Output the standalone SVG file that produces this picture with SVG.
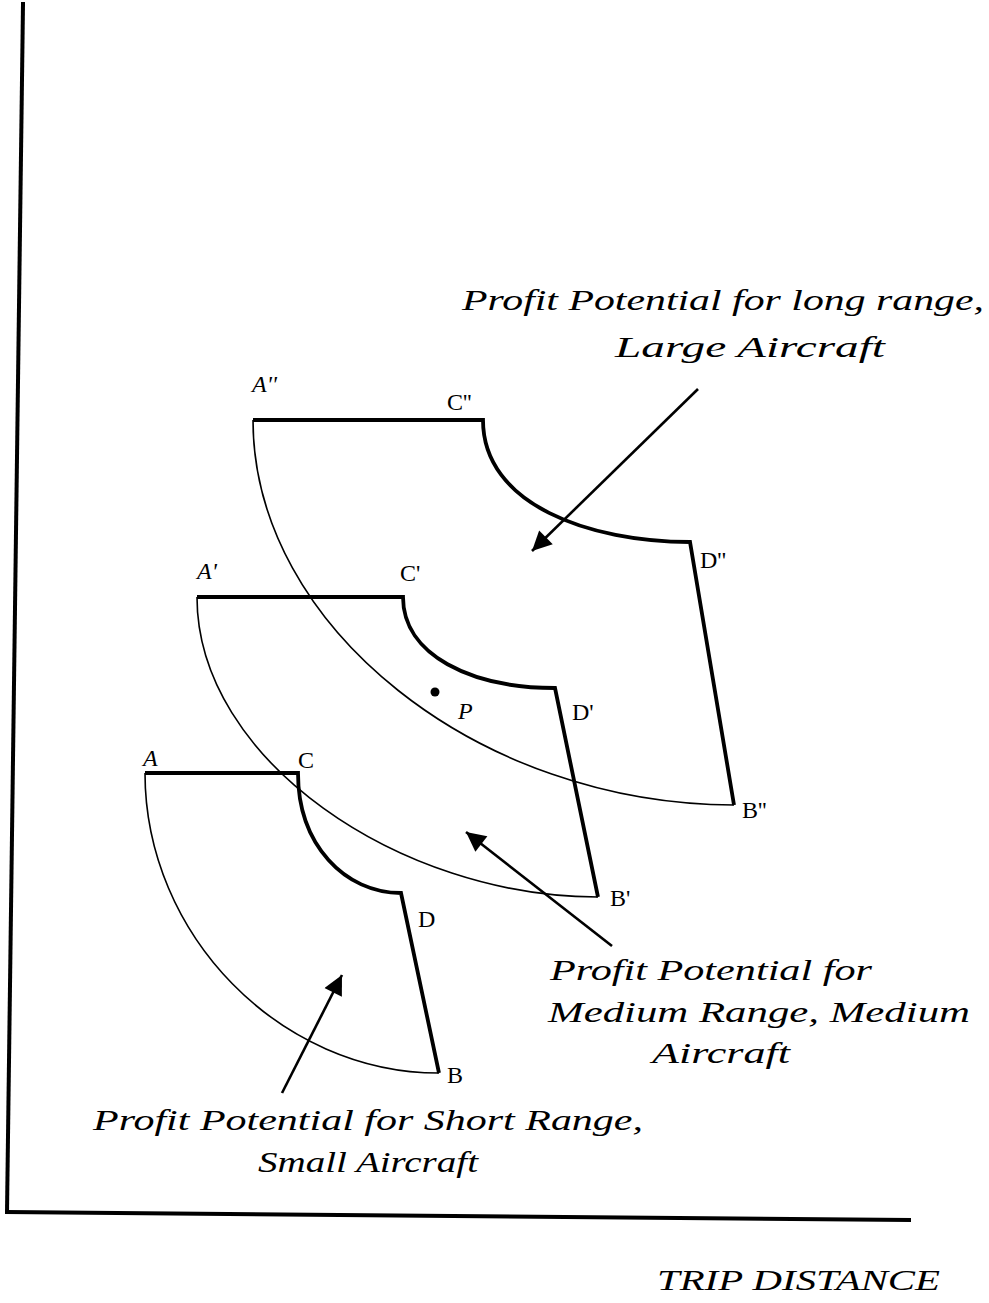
<svg xmlns="http://www.w3.org/2000/svg" width="989" height="1303" viewBox="0 0 989 1303">
<style>
.bg{fill:#fff}
.axis{stroke:#000;stroke-width:4;fill:none;stroke-linecap:square}
.thick{stroke:#000;stroke-width:3.8;fill:none;stroke-linejoin:miter}
.thin{stroke:#000;stroke-width:1.6;fill:none}
.arr{stroke:#000;stroke-width:2.6;fill:none}
.lbl{font-family:"Liberation Serif","DejaVu Serif",serif;font-size:24px;fill:#000}
.scr{font-style:italic}
.big{font-family:"Liberation Serif","DejaVu Serif",serif;font-style:italic;font-size:30px;fill:#000}
</style>
<defs>
<marker id="ah" viewBox="0 0 10 10" refX="10" refY="5" markerWidth="9.5" markerHeight="7.5" markerUnits="strokeWidth" orient="auto">
<path d="M0,0 L10,5 L0,10 Z" fill="#000"/>
</marker>
</defs>
<rect class="bg" x="0" y="0" width="989" height="1303"/>
<g id="axes">
<line class="axis" x1="23" y1="4" x2="7" y2="1212"/>
<line class="axis" x1="7" y1="1212" x2="909" y2="1220"/>
</g>
<g id="sector-short">
<path class="thin" d="M145,773 C145,935 280,1073 439,1073"/>
<path class="thick" d="M145,773 L298,773 C298,845 345,893 401,893 L439,1073"/>
</g>
<g id="sector-medium">
<path class="thin" d="M197,597 C197,760 400,897 598,897"/>
<path class="thick" d="M197,597 L403,597 C403,655 471,688 555,688 L598,897"/>
</g>
<g id="sector-long">
<path class="thin" d="M253,420 C253,628 480,805 734,805"/>
<path class="thick" d="M253,420 L483,420 C483,505 590,542 690,542 L734,805"/>
</g>
<g id="point-P">
<circle cx="435" cy="692" r="4.5" fill="#000"/>
<text class="lbl scr" x="458" y="719">P</text>
</g>
<g id="connectors">
<line class="arr" x1="698" y1="389" x2="532" y2="551" marker-end="url(#ah)"/>
<line class="arr" x1="612" y1="946" x2="466" y2="832" marker-end="url(#ah)"/>
<line class="arr" x1="282" y1="1093" x2="342" y2="975" marker-end="url(#ah)"/>
</g>
<g id="labels-short">
<text class="lbl scr" x="143" y="766">A</text>
<text class="lbl" x="298" y="768">C</text>
<text class="lbl" x="418" y="927">D</text>
<text class="lbl" x="447" y="1083">B</text>
</g>
<g id="labels-medium">
<text class="lbl scr" x="197" y="579">A'</text>
<text class="lbl" x="400" y="581">C'</text>
<text class="lbl" x="572" y="720">D'</text>
<text class="lbl" x="610" y="906">B'</text>
</g>
<g id="labels-long">
<text class="lbl scr" x="252" y="392">A''</text>
<text class="lbl" x="447" y="410">C''</text>
<text class="lbl" x="700" y="568">D''</text>
<text class="lbl" x="742" y="818">B''</text>
</g>
<g id="label-long-range">
<text class="big" x="462" y="310" textLength="522" lengthAdjust="spacingAndGlyphs">Profit Potential for long range,</text>
<text class="big" x="615" y="357" textLength="270" lengthAdjust="spacingAndGlyphs">Large Aircraft</text>
</g>
<g id="label-medium-range">
<text class="big" x="550" y="980" textLength="322" lengthAdjust="spacingAndGlyphs">Profit Potential for</text>
<text class="big" x="548" y="1022" textLength="422" lengthAdjust="spacingAndGlyphs">Medium Range, Medium</text>
<text class="big" x="652" y="1063" textLength="138" lengthAdjust="spacingAndGlyphs">Aircraft</text>
</g>
<g id="label-short-range">
<text class="big" x="93" y="1130" textLength="550" lengthAdjust="spacingAndGlyphs">Profit Potential for Short Range,</text>
<text class="big" x="258" y="1172" textLength="220" lengthAdjust="spacingAndGlyphs">Small Aircraft</text>
</g>
<g id="axis-label">
<text class="big" x="657" y="1290" textLength="283" lengthAdjust="spacingAndGlyphs">TRIP DISTANCE</text>
</g>
</svg>
